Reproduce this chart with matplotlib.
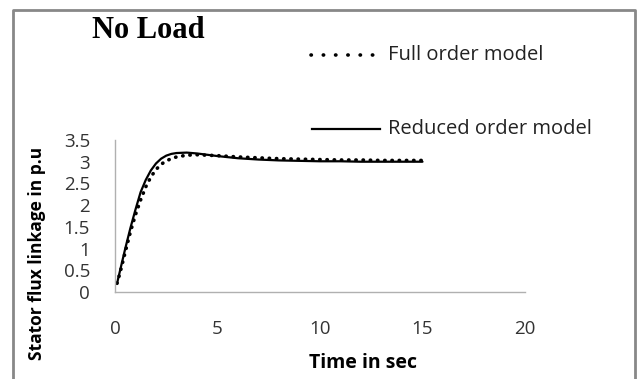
import matplotlib
matplotlib.use("Agg")
import matplotlib.pyplot as plt
from matplotlib.lines import Line2D

# time axis (s) and stator flux linkage (p.u)
time_s = [0.1, 0.25, 0.5, 0.75, 1.0, 1.25, 1.5, 1.75, 2.0, 2.25, 2.5, 2.75, 3.0,
          3.5, 4.0, 4.5, 5.0, 6.0, 7.0, 8.0, 9.0, 10.0, 11.0, 12.0, 13.0, 14.0, 15.0]
reduced_order = [0.2, 0.5, 1.0, 1.47, 1.9, 2.3, 2.58, 2.8, 2.96, 3.07, 3.14, 3.18, 3.2,
                 3.21, 3.19, 3.16, 3.13, 3.08, 3.05, 3.03, 3.02, 3.01, 3.01, 3.0, 3.0, 3.0, 3.0]
full_order = [0.2, 0.45, 0.92, 1.38, 1.78, 2.12, 2.42, 2.65, 2.82, 2.94, 3.02, 3.07, 3.11,
              3.15, 3.16, 3.15, 3.14, 3.11, 3.09, 3.07, 3.06, 3.05, 3.04, 3.04, 3.03, 3.03, 3.03]

x_ticks = [0, 5, 10, 15, 20]
y_ticks = [0, 0.5, 1, 1.5, 2, 2.5, 3, 3.5]
y_tick_labels = ["0", "0.5", "1", "1.5", "2", "2.5", "3", "3.5"]

W, H = 641, 379
fig = plt.figure(figsize=(W / 100, H / 100), dpi=100)
ax = fig.add_axes([115 / W, 1 - 292 / H, 410 / W, 152 / H])

ax.plot(time_s, reduced_order, color="black", lw=1.6, solid_capstyle="round")
ax.plot(time_s, full_order, color="black", lw=2.6, linestyle=(0, (0.1, 1.9)),
        dash_capstyle="round")

ax.set_xlim(0, 20)
ax.set_ylim(0, 3.5)
ax.set_xticks(x_ticks)
ax.set_yticks(y_ticks)
ax.set_yticklabels(y_tick_labels)
ax.tick_params(length=0, labelsize=13.5, labelcolor="#333333")
ax.tick_params(axis="y", pad=18)
ax.tick_params(axis="x", pad=20)
for lab in ax.get_xticklabels() + ax.get_yticklabels():
    lab.set_family("Open Sans")

for side in ["top", "right"]:
    ax.spines[side].set_visible(False)
for side in ["left", "bottom"]:
    ax.spines[side].set_color("#b0b0b0")
    ax.spines[side].set_linewidth(1.0)

# axis labels
fig.text(37 / W, 1 - 253 / H, "Stator flux linkage in p.u", rotation=90,
         ha="center", va="center", fontsize=12.5, fontweight="bold", family="Open Sans")
fig.text(363 / W, 1 - 363 / H, "Time in sec", ha="center", va="center",
         fontsize=14, fontweight="bold", family="Open Sans")

# title
fig.text(92 / W, 1 - 30 / H, "No Load", ha="left", va="center", fontsize=22,
         fontweight="bold", family="Liberation Serif")

# legend entries
fig.add_artist(Line2D([311 / W, 377 / W], [1 - 55 / H, 1 - 55 / H], color="black",
                      lw=2.6, linestyle=(0, (0.1, 3.3)), dash_capstyle="round"))
fig.text(388 / W, 1 - 55 / H, "Full order model", ha="left", va="center",
         fontsize=14.5, family="Open Sans", color="#222222")
fig.add_artist(Line2D([312 / W, 380 / W], [1 - 129 / H, 1 - 129 / H], color="black", lw=1.6))
fig.text(388 / W, 1 - 129 / H, "Reduced order model", ha="left", va="center",
         fontsize=14.5, family="Open Sans", color="#222222")

# chart area frame (left, top, right)
frame_x = [13 / W, 13 / W, 635 / W, 635 / W]
frame_y = [0, 1 - 10 / H, 1 - 10 / H, 0]
fig.add_artist(Line2D(frame_x, frame_y, color="#888888", lw=2))

fig.savefig("out.png", dpi=100)
